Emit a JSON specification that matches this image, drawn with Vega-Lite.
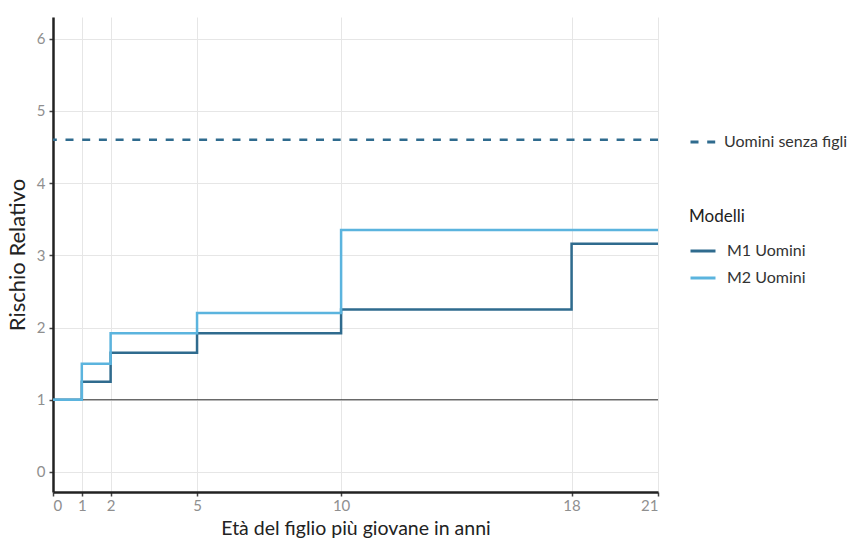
{
  "$schema": "https://vega.github.io/schema/vega-lite/v6.json",
  "width": 605,
  "height": 475,
  "autosize": {"type": "none"},
  "padding": {"left": 53, "top": 17, "right": 189, "bottom": 49},
  "background": "white",
  "config": {
    "view": {"stroke": null},
    "axis": {
      "labelFont": "Lato",
      "labelFontSize": 15,
      "labelColor": "#8f8f8f",
      "titleFont": "Lato",
      "titleFontWeight": "normal",
      "titleColor": "#222222",
      "domainColor": "#222222",
      "domainWidth": 2.5,
      "tickColor": "#444444",
      "tickWidth": 1.5,
      "tickSize": 4,
      "gridColor": "#e6e6e6",
      "gridWidth": 1
    },
    "legend": {
      "labelFont": "Lato",
      "labelFontSize": 16,
      "labelColor": "#333333",
      "titleFont": "Lato",
      "titleFontWeight": "normal",
      "titleFontSize": 17,
      "titleColor": "#222222"
    }
  },
  "datasets": {
    "steps": [
      {"eta": 0, "rr": 1, "modello": "M1 Uomini"},
      {"eta": 1, "rr": 1.25, "modello": "M1 Uomini"},
      {"eta": 2, "rr": 1.65, "modello": "M1 Uomini"},
      {"eta": 5, "rr": 1.92, "modello": "M1 Uomini"},
      {"eta": 10, "rr": 2.25, "modello": "M1 Uomini"},
      {"eta": 18, "rr": 3.16, "modello": "M1 Uomini"},
      {"eta": 21, "rr": 3.16, "modello": "M1 Uomini"},
      {"eta": 0, "rr": 1, "modello": "M2 Uomini"},
      {"eta": 1, "rr": 1.5, "modello": "M2 Uomini"},
      {"eta": 2, "rr": 1.92, "modello": "M2 Uomini"},
      {"eta": 5, "rr": 2.2, "modello": "M2 Uomini"},
      {"eta": 10, "rr": 3.35, "modello": "M2 Uomini"},
      {"eta": 21, "rr": 3.35, "modello": "M2 Uomini"}
    ],
    "ref": [{"rr": 4.6, "serie": "Uomini senza figli"}],
    "one": [{"rr": 1}]
  },
  "layer": [
    {
      "data": {"name": "one"},
      "mark": {"type": "rule", "color": "#333333", "strokeWidth": 1},
      "encoding": {
        "y": {"field": "rr", "type": "quantitative",
          "scale": {"domain": [-0.277, 6.3], "nice": false, "zero": false},
          "axis": {"values": [0, 1, 2, 3, 4, 5, 6], "format": "d", "title": "Rischio Relativo", "titleFontSize": 22, "titlePadding": 7, "labelPadding": 4}
        }
      }
    },
    {
      "data": {"name": "ref"},
      "mark": {"type": "rule", "color": "#2f6b8e", "strokeWidth": 2.5},
      "encoding": {
        "y": {"field": "rr", "type": "quantitative"},
        "strokeDash": {
          "field": "serie", "type": "nominal",
          "scale": {"domain": ["Uomini senza figli"], "range": [[8, 8.7]]},
          "legend": {
            "title": null,
            "orient": "none",
            "legendX": 636,
            "legendY": 111,
            "symbolType": "stroke",
            "symbolStrokeColor": "#2f6b8e",
            "symbolStrokeWidth": 3,
            "symbolSize": 625,
            "labelOffset": 7
          }
        }
      }
    },
    {
      "data": {"name": "steps"},
      "mark": {"type": "line", "interpolate": "step-after", "strokeWidth": 2.5},
      "encoding": {
        "x": {"field": "eta", "type": "quantitative",
          "scale": {"domain": [0, 21], "nice": false, "zero": false},
          "axis": {"values": [0, 1, 2, 5, 10, 18, 21], "title": "Età del figlio più giovane in anni", "titleFontSize": 19.5, "titlePadding": 6, "labelPadding": 2}
        },
        "y": {"field": "rr", "type": "quantitative"},
        "color": {
          "field": "modello", "type": "nominal",
          "scale": {"domain": ["M1 Uomini", "M2 Uomini"], "range": ["#2f6b8e", "#5bb4de"]},
          "legend": {
            "title": "Modelli",
            "orient": "none",
            "legendX": 636,
            "legendY": 192,
            "symbolType": "stroke",
            "symbolStrokeWidth": 3,
            "symbolSize": 625,
            "labelOffset": 10,
            "rowPadding": 5,
            "titlePadding": 11
          }
        }
      }
    }
  ]
}
